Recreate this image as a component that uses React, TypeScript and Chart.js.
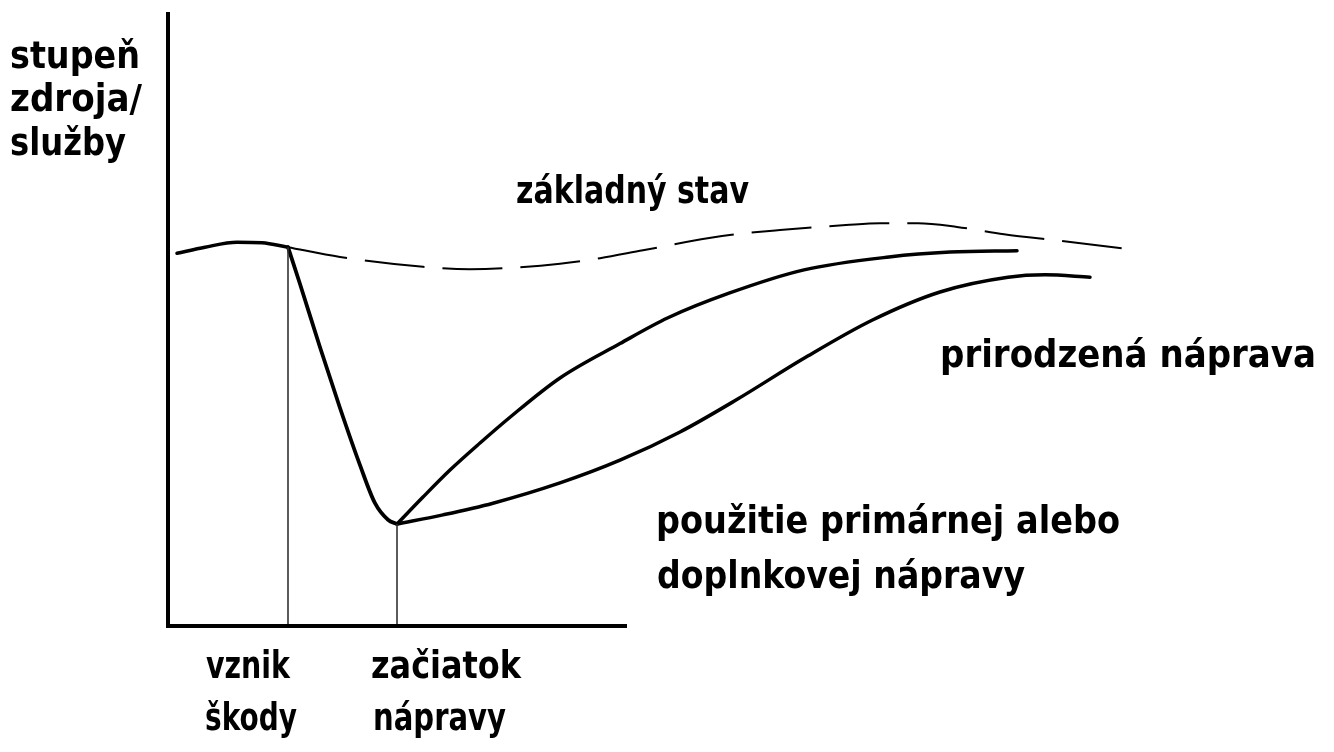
import React, { useEffect, useRef } from "react";
import { Chart, registerables } from "chart.js";

Chart.register(...registerables);

// Horizontal axis: time (0..100), vertical axis: level of resource / service (0..100)
const preX = [0.9, 3.7, 6.9, 9.4, 12.0];
const preY = [60.7, 61.7, 62.5, 62.4, 61.7];

const baselineX = [12.0, 17.2, 25.5, 30.2, 34.0, 39.2, 43.2, 47.5, 55.4, 61.2, 67.8, 71.2, 75.0, 78.9, 83.6, 89.4, 95.9];
const baselineY = [61.7, 60.1, 58.5, 58.1, 58.3, 59.0, 59.9, 61.2, 63.5, 64.5, 65.3, 65.6, 65.6, 65.0, 63.8, 62.7, 61.4];

const declineX = [12.0, 13.2, 15.2, 17.2, 19.2, 20.7, 22.0, 22.9];
const declineY = [61.7, 55.7, 45.4, 35.5, 26.2, 20.0, 17.3, 16.6];

const fastX = [22.9, 25.5, 28.2, 31.2, 34.2, 39.2, 45.2, 50.0, 56.1, 63.6, 72.1, 78.2, 84.9];
const fastY = [16.6, 21.0, 25.4, 29.8, 34.0, 40.4, 46.0, 50.2, 54.2, 58.0, 60.1, 60.9, 61.1];

const slowX = [22.9, 27.5, 32.5, 39.2, 45.2, 51.2, 56.8, 63.6, 70.4, 77.2, 84.0, 87.7, 92.2];
const slowY = [16.6, 18.1, 20.0, 23.3, 27.0, 31.6, 36.8, 43.6, 49.8, 54.4, 56.8, 57.2, 56.8];

const markerX = [12.0, 22.9];
const markerY = [61.7, 16.6];

const axisXEnd = 45.9;
const axisYTop = 100;

type Label = { text: string; x: number; y: number; w: number };
const labels: Label[] = [
  { text: "stupeň", x: 10, y: 68, w: 130 },
  { text: "zdroja/", x: 10, y: 111, w: 132 },
  { text: "služby", x: 10, y: 155, w: 116 },
  { text: "základný stav", x: 516, y: 203, w: 233 },
  { text: "prirodzená náprava", x: 940, y: 367, w: 376 },
  { text: "použitie primárnej alebo", x: 656, y: 533, w: 464 },
  { text: "doplnkovej nápravy", x: 657, y: 588, w: 368 },
  { text: "vznik", x: 206, y: 678, w: 84 },
  { text: "škody", x: 205, y: 730, w: 92 },
  { text: "začiatok", x: 371, y: 678, w: 150 },
  { text: "nápravy", x: 373, y: 730, w: 133 },
];

const pts = (xs: number[], ys: number[]) => xs.map((x, i) => ({ x, y: ys[i] }));

export default function App() {
  const ref = useRef<HTMLCanvasElement | null>(null);

  useEffect(() => {
    if (!ref.current) return;
    const textPlugin = {
      id: "labels",
      afterDraw(chart: any) {
        const ctx = chart.ctx as CanvasRenderingContext2D;
        ctx.save();
        ctx.fillStyle = "#000";
        ctx.font = "bold 37px 'DejaVu Sans'";
        ctx.textBaseline = "alphabetic";
        ctx.textAlign = "left";
        for (const l of labels) {
          const m = ctx.measureText(l.text).width;
          ctx.save();
          ctx.translate(l.x, l.y);
          ctx.scale(l.w / m, 1);
          ctx.fillText(l.text, 0, 0);
          ctx.restore();
        }
        ctx.restore();
      },
    };

    const line = (data: any[], extra: any = {}) => ({
      data,
      borderColor: "#000",
      borderWidth: 3.5,
      pointRadius: 0,
      fill: false,
      clip: false,
      cubicInterpolationMode: "monotone",
      borderCapStyle: "round",
      borderJoinStyle: "round",
      ...extra,
    });

    const chart = new Chart(ref.current, {
      type: "line",
      data: {
        datasets: [
          line([{ x: 0, y: 0 }, { x: 0, y: axisYTop }], { borderWidth: 4, borderCapStyle: "butt" }),
          line([{ x: -0.2, y: 0 }, { x: axisXEnd, y: 0 }], { borderWidth: 4, borderCapStyle: "butt" }),
          line([{ x: markerX[0], y: 0 }, { x: markerX[0], y: markerY[0] }], { borderWidth: 1.6, borderColor: "#333", borderCapStyle: "butt" }),
          line([{ x: markerX[1], y: 0 }, { x: markerX[1], y: markerY[1] }], { borderWidth: 1.6, borderColor: "#333", borderCapStyle: "butt" }),
          line(pts(preX, preY), { borderWidth: 3.5 }),
          line(pts(baselineX, baselineY), { borderWidth: 2, borderDash: [60, 18], borderCapStyle: "butt" }),
          line(pts(declineX, declineY), { borderWidth: 3.8 }),
          line(pts(fastX, fastY), { borderWidth: 3.5 }),
          line(pts(slowX, slowY), { borderWidth: 3.5 }),
        ],
      },
      options: {
        animation: false,
        responsive: false,
        maintainAspectRatio: false,
        events: [],
        layout: { padding: { left: 168, right: 166, top: 12, bottom: 126 } },
        plugins: { legend: { display: false }, tooltip: { enabled: false }, title: { display: false } },
        scales: {
          x: { type: "linear", min: 0, max: 100, display: false },
          y: { type: "linear", min: 0, max: 100, display: false },
        },
      },
      plugins: [textPlugin],
    } as any);
    return () => chart.destroy();
  }, []);

  return (
    <div style={{ position: "fixed", left: 0, top: 0, width: 1334, height: 752, background: "#fff" }}>
      <canvas ref={ref} width={1334} height={752} style={{ display: "block" }} />
    </div>
  );
}
